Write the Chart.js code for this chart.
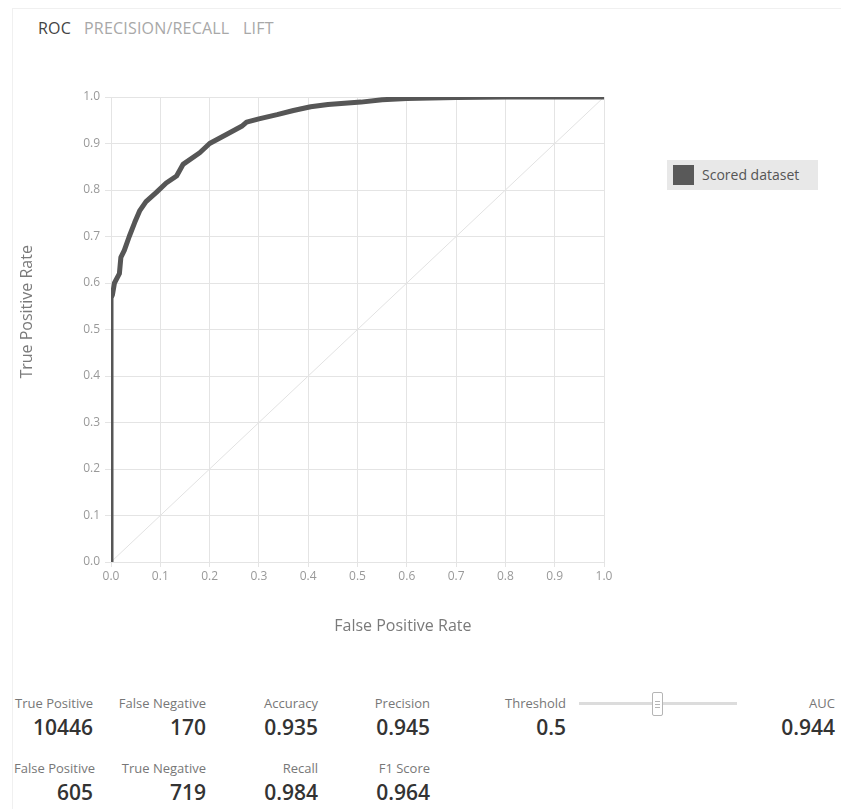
<!DOCTYPE html>
<html>
<head>
  <title>ROC</title>
  <script src="https://cdn.jsdelivr.net/npm/chart.js"></script>
  <style>
    body { margin: 0; background: #fff; font-family: "Open Sans", sans-serif; }
    #page { position: relative; width: 841px; height: 809px; overflow: hidden; }
    #frame { position: absolute; left: 12px; top: 8px; right: 0; bottom: 0; border-top: 1px solid #f0f0f0; border-left: 1px solid #f0f0f0; }
    .tab { position: absolute; top: 17px; font-size: 16px; color: #a8a8a8; letter-spacing: 0.2px; }
    .tab.on { color: #444; }
    #wrap { position: absolute; left: 0; top: 60px; width: 841px; height: 600px; }
    #legend { position: absolute; left: 667px; top: 160px; width: 151px; height: 30px; background: #e8e8e8; }
    #legend .sw { position: absolute; left: 6px; top: 5px; width: 21px; height: 20px; background: #595959; }
    #legend span { position: absolute; left: 35px; top: 5px; font-size: 14px; color: #555; }
    .lab { position: absolute; font-size: 13px; color: #777; text-align: right; white-space: nowrap; }
    .val { position: absolute; font-size: 21px; font-weight: 600; color: #333; text-align: right; white-space: nowrap; }
    #track { position: absolute; left: 579px; top: 702px; width: 158px; height: 3px; background: #dcdcdc; }
    #thumb { position: absolute; left: 652px; top: 692px; width: 9px; height: 22px; background: #fff; border: 1px solid #b5b5b5; border-radius: 2px; }
    #thumb i { position: absolute; left: 2px; width: 5px; height: 1px; background: #b5b5b5; }
  </style>
</head>
<body>
<div id="page">
  <div id="frame"></div>
  <div class="tab on" style="left:38px">ROC</div>
  <div class="tab" style="left:84px">PRECISION/RECALL</div>
  <div class="tab" style="left:243px">LIFT</div>

  <div id="wrap"><canvas id="roc"></canvas></div>

  <div id="legend"><div class="sw"></div><span>Scored dataset</span></div>

  <div id="stats"></div>
  <div id="track"></div>
  <div id="thumb"><i style="top:8px"></i><i style="top:11px"></i><i style="top:14px"></i></div>
</div>
<script>
  // ROC curve for the scored dataset
  const fpr = [0, 0, 0.003, 0.007, 0.017, 0.02, 0.027, 0.037, 0.048, 0.058, 0.071, 0.092, 0.112, 0.133,
    0.146, 0.18, 0.2, 0.235, 0.265, 0.275, 0.3, 0.337, 0.37, 0.405, 0.44, 0.507, 0.55, 0.6, 0.7, 0.8, 0.9, 1.0];
  const tpr = [0, 0.568, 0.575, 0.6, 0.62, 0.655, 0.67, 0.7, 0.73, 0.755, 0.775, 0.795, 0.815, 0.83,
    0.855, 0.88, 0.9, 0.92, 0.937, 0.946, 0.953, 0.962, 0.971, 0.979, 0.984, 0.989, 0.994, 0.997, 0.999, 1.0, 1.0, 1.0];

  // random-guess reference line
  const diagX = [0, 1];
  const diagY = [0, 1];

  const tickValues = [0, 0.1, 0.2, 0.3, 0.4, 0.5, 0.6, 0.7, 0.8, 0.9, 1.0];
  const xTitle = 'False Positive Rate';
  const yTitle = 'True Positive Rate';

  // summary metrics under the chart
  const statLabels = ['True Positive', 'False Negative', 'Accuracy', 'Precision', 'False Positive', 'True Negative', 'Recall', 'F1 Score'];
  const statValues = ['10446', '170', '0.935', '0.945', '605', '719', '0.984', '0.964'];
  const thresholdValue = '0.5';
  const aucValue = '0.944';

  const font = '"Open Sans", sans-serif';
  const grey = '#e4e4e4';

  // axis titles sit off-centre, so they are drawn here instead of by the scales
  const axisTitles = {
    id: 'axisTitles',
    afterDraw(chart) {
      const { ctx, scales: { x, y } } = chart;
      ctx.save();
      ctx.fillStyle = '#7a7a7a';
      ctx.font = '16px ' + font;
      ctx.textAlign = 'center';
      ctx.textBaseline = 'middle';
      ctx.fillText(xTitle, x.getPixelForValue(0.592), y.bottom + 64);
      ctx.translate(27, y.getPixelForValue(0.538));
      ctx.rotate(-Math.PI / 2);
      ctx.fillText(yTitle, 0, 0);
      ctx.restore();
    }
  };

  new Chart(document.getElementById('roc'), {
    type: 'scatter',
    data: {
      datasets: [{
        label: 'Scored dataset',
        data: fpr.map((x, i) => ({ x: x, y: tpr[i] })),
        showLine: true,
        borderColor: '#565656',
        borderWidth: 5,
        pointRadius: 0,
        borderJoinStyle: 'round',
        order: 0
      }, {
        label: 'baseline',
        data: diagX.map((x, i) => ({ x: x, y: diagY[i] })),
        showLine: true,
        borderColor: '#e2e2e2',
        borderWidth: 1,
        pointRadius: 0,
        order: 1
      }]
    },
    options: {
      responsive: true,
      maintainAspectRatio: false,
      animation: false,
      layout: { padding: { top: 37, right: 237, left: 0, bottom: 0 } },
      plugins: { legend: { display: false }, tooltip: { enabled: false } },
      scales: {
        x: {
          type: 'linear', min: 0, max: 1,
          afterFit: s => { s.height = 98; },
          afterBuildTicks: s => { s.ticks = tickValues.map(v => ({ value: v })); },
          grid: { color: grey, tickLength: 5 },
          border: { color: grey },
          ticks: { color: '#999', font: { family: font, size: 12 }, padding: 2, callback: v => v.toFixed(1) }
        },
        y: {
          type: 'linear', min: 0, max: 1,
          afterFit: s => { s.width = 111; },
          afterBuildTicks: s => { s.ticks = tickValues.map(v => ({ value: v })); },
          grid: { color: grey, tickLength: 6 },
          border: { color: grey },
          ticks: { color: '#999', font: { family: font, size: 12 }, padding: 5, callback: v => v.toFixed(1) }
        }
      }
    },
    plugins: [axisTitles]
  });

  // metric tiles: label right edges and rows
  const colRight = [93, 206, 318, 430];
  const rowTop = [694, 759];
  const stats = document.getElementById('stats');
  function put(cls, text, right, top) {
    const d = document.createElement('div');
    d.className = cls;
    d.textContent = text;
    d.style.right = (841 - right) + 'px';
    d.style.top = top + 'px';
    stats.appendChild(d);
  }
  statLabels.forEach((t, i) => {
    const r = Math.floor(i / 4), c = i % 4;
    put('lab', t, colRight[c] + (t === 'False Positive' ? 2 : 0), rowTop[r]);
    put('val', statValues[i], colRight[c], rowTop[r] + 19);
  });
  put('lab', 'Threshold', 566, rowTop[0]);
  put('val', thresholdValue, 566, rowTop[0] + 19);
  put('lab', 'AUC', 835, rowTop[0]);
  put('val', aucValue, 835, rowTop[0] + 19);
</script>
</body>
</html>
